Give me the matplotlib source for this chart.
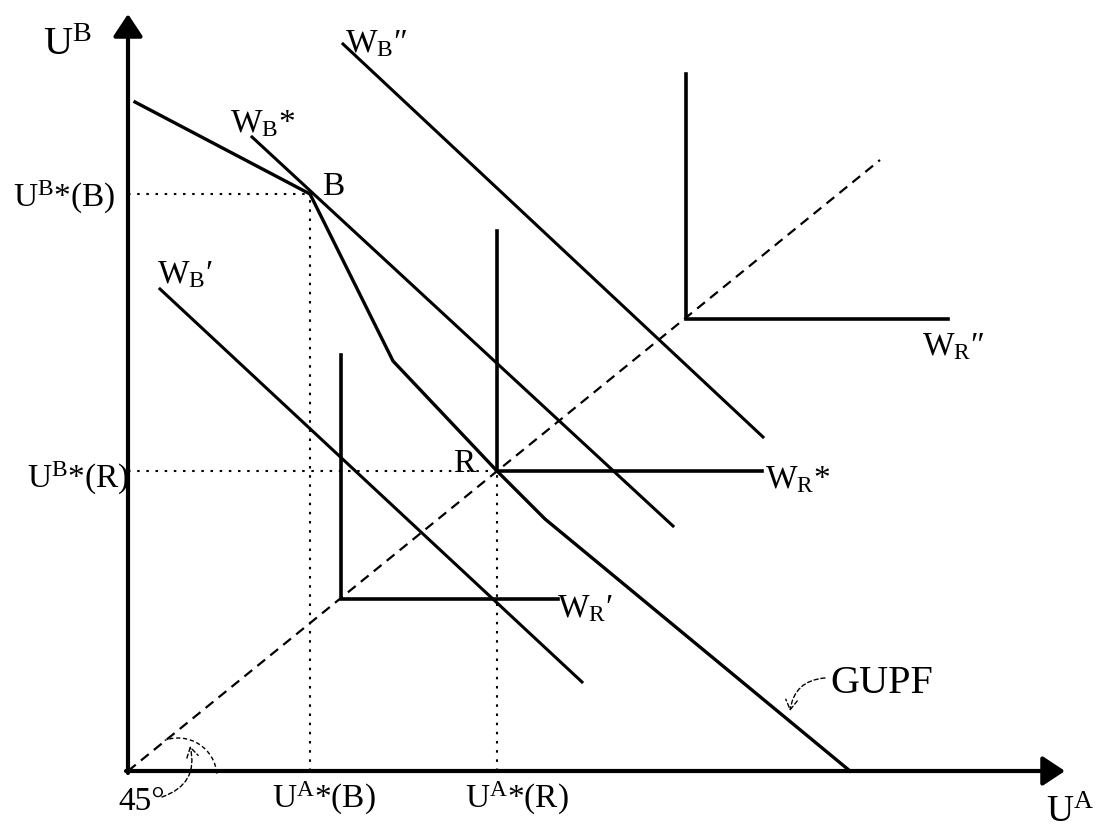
import matplotlib
matplotlib.use("Agg")
import matplotlib.pyplot as plt
from matplotlib.patches import Arc

plt.rcParams['font.family'] = ['Liberation Serif', 'DejaVu Serif']
plt.rcParams['mathtext.fontset'] = 'custom'
plt.rcParams['mathtext.rm'] = 'Liberation Serif'
plt.rcParams['mathtext.it'] = 'Liberation Serif:italic'
plt.rcParams['mathtext.bf'] = 'Liberation Serif:bold'

# ---- data (diagram units, origin at the axes corner) ----
gupf_x = [7, 182, 265, 369, 417, 722]
gupf_y = [669, 577, 410, 300, 252, 0]

wb_star_x = [124, 545]
wb_star_y = [634, 245]
wb_dd_x = [215, 635]
wb_dd_y = [727, 334]
wb_p_x = [32, 454]
wb_p_y = [482, 89]

# Rawlsian (L-shaped) welfare contours: corner, top of vertical arm, end of horizontal arm
wr_corner_x = [213, 369, 558]
wr_corner_y = [172, 300, 452]
wr_top_y = [416, 540, 697]
wr_end_x = [430, 634, 820]

line45_x = [0, 752]
line45_y = [0, 611]

point_B = (182, 577)
point_R = (369, 300)

xaxis_end = 937
yaxis_end = 757

# ---- figure ----
fig = plt.figure(figsize=(11, 8.28), dpi=100)
ax = fig.add_axes([0, 0, 1, 1])
ax.set_xlim(-128, 972)
ax.set_ylim(-56, 772)
ax.axis('off')

# axes with arrows
arrow_style = '-|>,head_length=0.68,head_width=0.45'
ax.annotate('', xy=(0, yaxis_end), xytext=(0, -2),
            arrowprops=dict(arrowstyle=arrow_style, lw=3, color='black',
                            shrinkA=0, shrinkB=0, mutation_scale=20))
ax.annotate('', xy=(xaxis_end, 0), xytext=(-2, 0),
            arrowprops=dict(arrowstyle=arrow_style, lw=3, color='black',
                            shrinkA=0, shrinkB=0, mutation_scale=20))

# 45 degree dashed line
ax.plot(line45_x, line45_y, color='black', lw=1.6, dashes=(4.5, 3))

# dotted projection lines
dot = dict(color='black', lw=1.5, dashes=(1.2, 3.2))
ax.plot([0, point_B[0]], [point_B[1], point_B[1]], **dot)
ax.plot([point_B[0], point_B[0]], [0, point_B[1]], **dot)
ax.plot([0, point_R[0]], [point_R[1], point_R[1]], **dot)
ax.plot([point_R[0], point_R[0]], [0, point_R[1]], **dot)

# GUPF
ax.plot(gupf_x, gupf_y, color='black', lw=2.4, solid_joinstyle='miter')

# utilitarian contours
for xs, ys in [(wb_star_x, wb_star_y), (wb_dd_x, wb_dd_y), (wb_p_x, wb_p_y)]:
    ax.plot(xs, ys, color='black', lw=2.2)

# Rawlsian contours
for cx, cy, ty, ex in zip(wr_corner_x, wr_corner_y, wr_top_y, wr_end_x):
    ax.plot([cx, cx, ex], [ty, cy, cy], color='black', lw=2.6,
            solid_joinstyle='miter')

# ---- labels ----
big = 29
mid = 24
ax.text(-85, 717, r'$\mathrm{U^{B}}$', fontsize=big, ha='left', va='baseline')
ax.text(918, -50, r'$\mathrm{U^{A}}$', fontsize=27, ha='left', va='baseline')
ax.text(-115, 565, r'$\mathrm{U^{B}}$*(B)', fontsize=mid, ha='left', va='baseline')
ax.text(-101, 284, r'$\mathrm{U^{B}}$*(R)', fontsize=mid, ha='left', va='baseline')
ax.text(144, -36, r'$\mathrm{U^{A}}$*(B)', fontsize=mid, ha='left', va='baseline')
ax.text(337, -36, r'$\mathrm{U^{A}}$*(R)', fontsize=mid, ha='left', va='baseline')
ax.text(-10, -38, '45°', fontsize=mid, ha='left', va='baseline')
ax.text(702, 79, 'GUPF', fontsize=big, ha='left', va='baseline')
ax.text(194, 577, 'B', fontsize=mid, ha='left', va='baseline')
ax.text(325, 300, 'R', fontsize=mid, ha='left', va='baseline')

ax.text(102, 640, r'$\mathrm{W_{B}}$*', fontsize=mid, ha='left', va='baseline')
ax.text(217, 720, r'$\mathrm{W_{B}}$″', fontsize=mid, ha='left', va='baseline')
ax.text(29, 489, r'$\mathrm{W_{B}}$′', fontsize=mid, ha='left', va='baseline')
ax.text(794, 417, r'$\mathrm{W_{R}}$″', fontsize=mid, ha='left', va='baseline')
ax.text(637, 284, r'$\mathrm{W_{R}}$*', fontsize=mid, ha='left', va='baseline')
ax.text(429, 155, r'$\mathrm{W_{R}}$′', fontsize=mid, ha='left', va='baseline')

# angle arc and pointer arrows
ax.add_patch(Arc((50, -6), 78, 78, theta1=5, theta2=110, color='black',
                 lw=1.0, linestyle=(0, (3, 2))))
ax.annotate('', xy=(62, 25), xytext=(34, -26),
            arrowprops=dict(arrowstyle='->,head_length=0.5,head_width=0.3',
                            lw=1.0, color='black', linestyle=(0, (3, 2)),
                            connectionstyle='arc3,rad=0.45',
                            shrinkA=0, shrinkB=0, mutation_scale=14))
ax.annotate('', xy=(662, 60), xytext=(697, 93),
            arrowprops=dict(arrowstyle='->,head_length=0.5,head_width=0.3',
                            lw=1.0, color='black', linestyle=(0, (3, 2)),
                            connectionstyle='arc3,rad=0.4',
                            shrinkA=0, shrinkB=0, mutation_scale=14))

fig.savefig('out.png', dpi=100)
